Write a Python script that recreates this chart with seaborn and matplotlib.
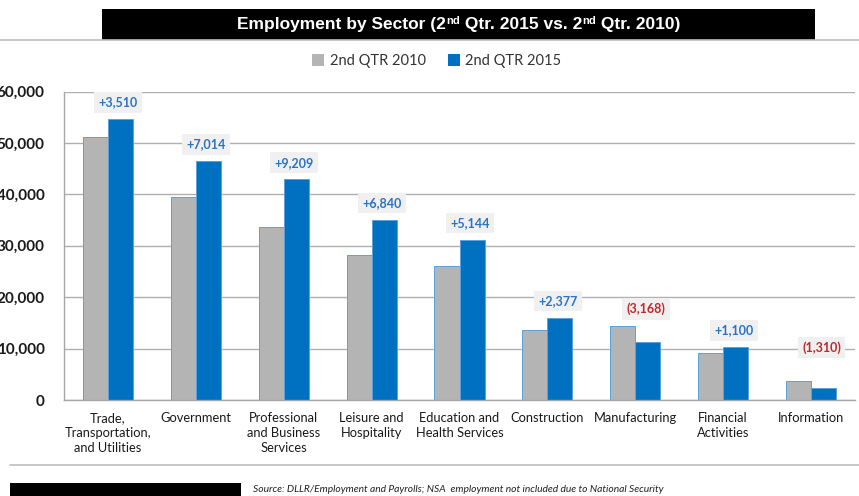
import matplotlib
matplotlib.use("Agg")
import matplotlib.pyplot as plt
from matplotlib.patches import Patch, Rectangle
from matplotlib.lines import Line2D
import seaborn as sns
import pandas as pd

sectors = ["Trade,\nTransportation,\nand Utilities", "Government",
           "Professional\nand Business\nServices", "Leisure and\nHospitality",
           "Education and\nHealth Services", "Construction", "Manufacturing",
           "Financial\nActivities", "Information"]
emp_2010 = [51180, 39480, 33700, 28250, 26030, 13650, 14450, 9200, 3700]
emp_2015 = [54690, 46494, 42909, 35090, 31174, 16027, 11282, 10300, 2390]
changes = ["+3,510", "+7,014", "+9,209", "+6,840", "+5,144", "+2,377", "(3,168)", "+1,100", "(1,310)"]
periods = ["2nd QTR 2010", "2nd QTR 2015"]
yticks = [0, 10000, 20000, 30000, 40000, 50000, 60000]

GRAY = "#b4b4b4"
BLUE = "#0070c0"

df = pd.DataFrame({
    "Sector": sectors * 2,
    "Employment": emp_2010 + emp_2015,
    "Period": [periods[0]] * len(sectors) + [periods[1]] * len(sectors),
})

sns.set_style("white")
plt.rcParams["font.family"] = ["Lato", "DejaVu Sans"]

W, H = 859, 496
fig = plt.figure(figsize=(W / 100, H / 100), dpi=100)
ax = fig.add_axes([64 / W, 1 - 400 / H, 791 / W, 308.5 / H])

sns.barplot(data=df, x="Sector", y="Employment", hue="Period",
            palette=[GRAY, BLUE], width=0.57, saturation=1, legend=False, ax=ax)

# light outline on the bars
for p in ax.patches:
    fc = p.get_facecolor()
    p.set_edgecolor("#d6d6d6" if fc[2] < 0.6 else "#5aa2dc")
    p.set_linewidth(0.7)

ax.set_ylim(0, 60000)
ax.set_xlim(-0.5, len(sectors) - 0.5)
ax.set_yticks(yticks)
ax.set_yticklabels([f"{v:,}" for v in yticks], fontsize=11, fontweight="bold", color="#1a1a1a")
ax.tick_params(axis="y", length=4, pad=10, color="#a6a6a6")
ax.set_xticks(range(len(sectors)))
ax.set_xticklabels(sectors, fontsize=9.3, color="#1a1a1a", va="top", linespacing=1.25)
ax.tick_params(axis="x", length=0, pad=9)
ax.set_xticks([i + 0.5 for i in range(-1, len(sectors))], minor=True)
ax.tick_params(axis="x", which="minor", length=5, color="#a6a6a6")
ax.set_xlabel("")
ax.set_ylabel("")
ax.yaxis.grid(True, color="#b0b0b0", linewidth=1)
ax.set_axisbelow(True)
for s in ["top", "right"]:
    ax.spines[s].set_visible(False)
for s in ["left", "bottom"]:
    ax.spines[s].set_color("#a6a6a6")
    ax.spines[s].set_linewidth(1)

# change labels above each pair
for i, txt in enumerate(changes):
    top = max(emp_2010[i], emp_2015[i])
    off = 24 if i == len(sectors) - 1 else 12
    neg = txt.startswith("(")
    ax.annotate(txt, (i + 0.12, top), xytext=(0, off), textcoords="offset points",
                ha="center", va="center", fontsize=9, fontweight="bold",
                color="#c0282d" if neg else "#2a74c4",
                bbox=dict(boxstyle="square,pad=0.35", fc="#f0f0f0", ec="none"))

# legend
handles = [Patch(facecolor=GRAY, edgecolor="none"), Patch(facecolor=BLUE, edgecolor="none")]
fig.legend(handles, periods, loc="center", bbox_to_anchor=(437 / W, 1 - 61 / H), ncol=2,
           frameon=False, fontsize=10.5, handlelength=0.8, handleheight=0.8,
           handletextpad=0.4, columnspacing=1.5, labelcolor="#333333")

# title banner
fig.add_artist(Line2D([0, 1], [1 - 39.5 / H] * 2, color="#bfbfbf", lw=1.2, transform=fig.transFigure))
fig.add_artist(Rectangle((102 / W, 1 - 39.5 / H), 713 / W, 31 / H, facecolor="black",
                         edgecolor="none", transform=fig.transFigure))
fig.canvas.draw()
renderer = fig.canvas.get_renderer()
pieces = [("Employment by Sector (2", False), ("nd", True), (" Qtr. 2015 vs. 2", False),
          ("nd", True), (" Qtr. 2010)", False)]
ty = 1 - 24.5 / H
arts = []
for s, sup in pieces:
    t = fig.text(0, ty + (4 / H if sup else 0), s, color="white", fontweight="bold",
                 fontsize=8 if sup else 12.5, family="Liberation Sans", va="center", ha="left")
    arts.append(t)
widths = [a.get_window_extent(renderer).width for a in arts]
x = 458.5 - sum(widths) / 2
for a, w in zip(arts, widths):
    a.set_x(x / W)
    x += w

# footer
fig.add_artist(Line2D([10 / W, 1], [1 - 465 / H] * 2, color="#bfbfbf", lw=1.2, transform=fig.transFigure))
fig.add_artist(Rectangle((10 / W, 0), 231 / W, 13.5 / H, facecolor="black",
                         edgecolor="none", transform=fig.transFigure))
fig.text(253 / W, 1 - 489.5 / H,
         "Source: DLLR/Employment and Payrolls; NSA  employment not included due to National Security",
         fontsize=7.4, style="italic", color="#222222", va="center", ha="left")

fig.savefig("out.png", dpi=100)
